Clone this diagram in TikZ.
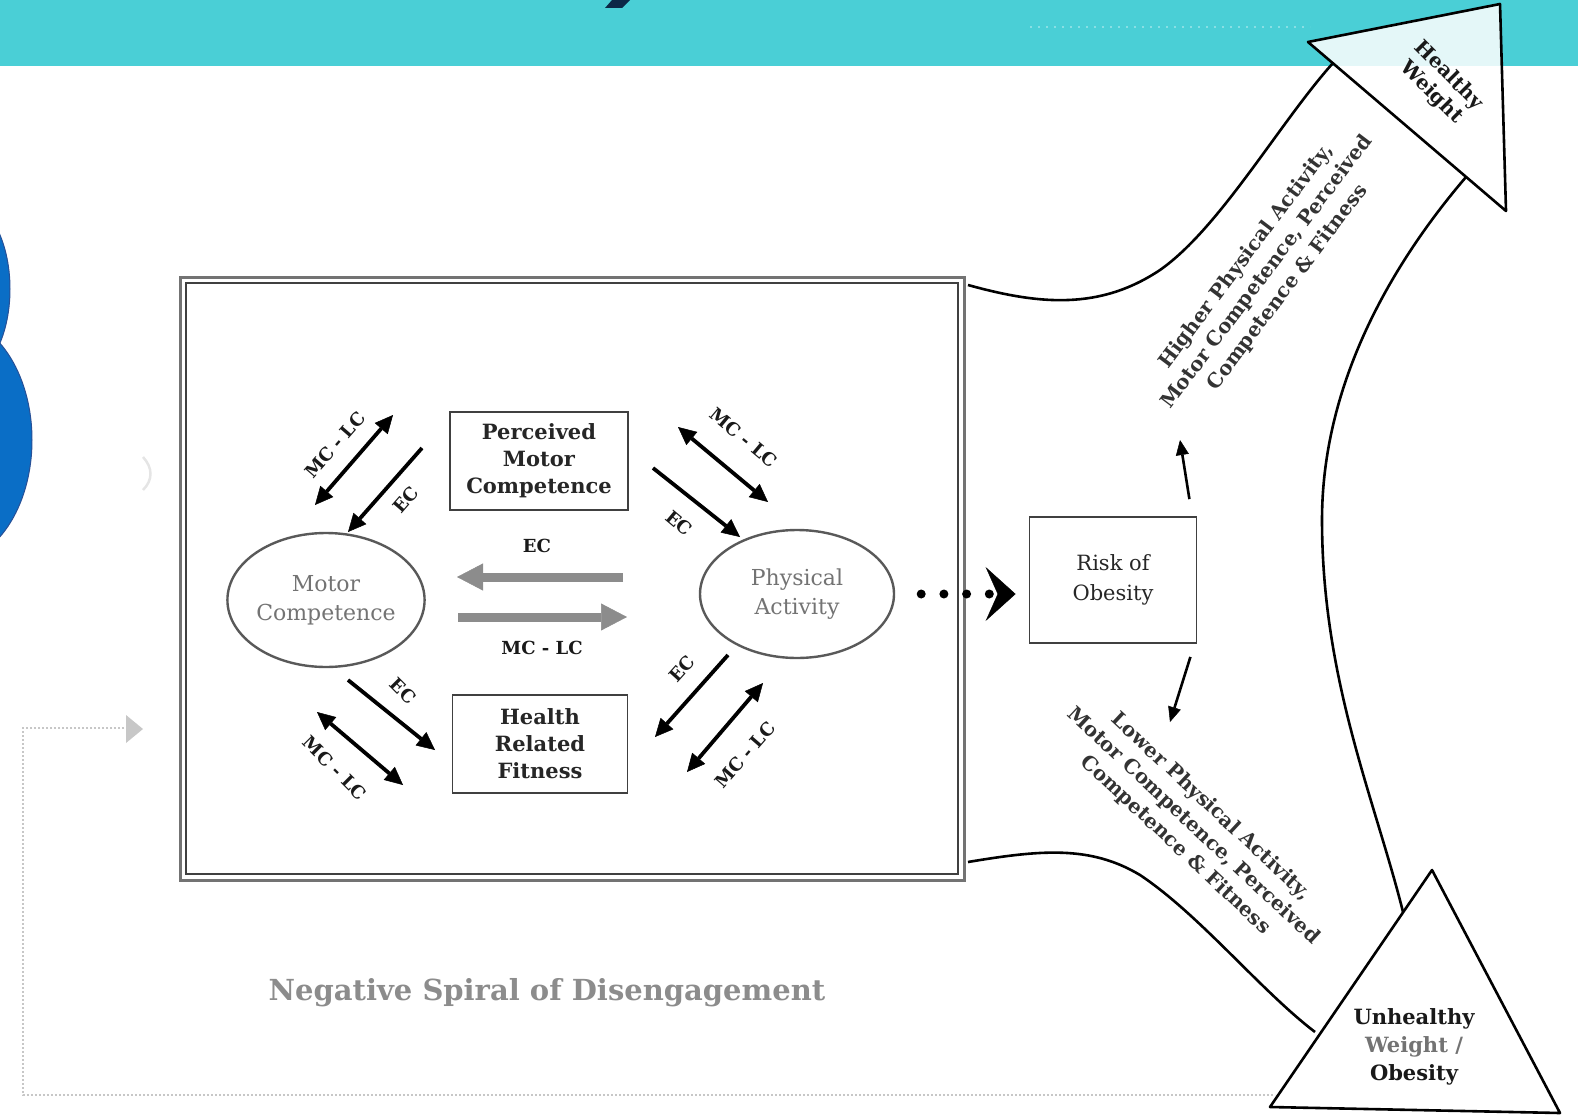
\documentclass[tikz,border=0pt]{standalone}
\usepackage{fontspec}
\setmainfont{DejaVu Serif}
\usetikzlibrary{arrows.meta,shapes.geometric}

\definecolor{banner}{RGB}{74,207,214}
\definecolor{navy}{RGB}{12,40,70}
\definecolor{blob}{RGB}{10,110,198}
\definecolor{blobedge}{RGB}{40,80,150}

\begin{document}
\begin{tikzpicture}[x=1pt,y=1pt,yscale=-1,
  boxtxt/.style={draw=black!75,line width=1.8,align=center,inner sep=0,text=black!85,font=\fontsize{21}{27}\selectfont\bfseries},
  ovaltxt/.style={ellipse,draw=black!65,line width=2.4,align=center,inner sep=0,text=black!55,font=\fontsize{22}{29}\selectfont},
  lbl/.style={inner sep=0,text=black!90,font=\fontsize{18}{20}\selectfont\bfseries},
  hd/.tip={Triangle[length=18pt,width=17pt,line width=0.5pt]},
  blkarrow/.style={line width=3.8,-hd},
  dblarrow/.style={line width=3.8,hd-hd},
  grayarrow/.style={line width=9,draw=black!45,-{Triangle[length=26pt,width=27pt,line width=0.5pt]}},
  dotconn/.style={line width=9,line cap=round,dash pattern=on 0pt off 22.7pt,shorten <=26pt,shorten >=13pt,-{Stealth[length=30pt,width=54pt,inset=12pt,line width=0.5pt]}},
  smallarrow/.style={line width=2.6,-{Triangle[length=15pt,width=13pt,line width=0.5pt]}},
  bigtxt/.style={align=center,inner sep=0,text=black!80,font=\fontsize{20}{26}\selectfont\bfseries},
  outline/.style={line width=2.6,line join=round}]
\useasboundingbox (0,0) rectangle (1578,1115);
\clip (0,0) rectangle (1578,1115);

%Banner
\fill[banner] (0,0) rectangle (1578,66);
\fill[navy] (612,0) -- (630,0) -- (622,8) -- (605,8) -- cycle;
\draw[white,opacity=0.35,line width=1.5,dash pattern=on 2pt off 6pt] (1030,27) -- (1310,27);

%Blue shapes, left edge
\filldraw[fill=blob,draw=blobedge,line width=1] (-40,289) ellipse [x radius=50,y radius=90];
\filldraw[fill=blob,draw=blobedge,line width=1] (-50,440) ellipse [x radius=82,y radius=122];

%faint marks
\draw[black!10,line width=2.5] (143,457) .. controls (153,468) and (153,480) .. (143,490);
\draw[black!22,line width=2,dash pattern=on 2pt off 2pt] (124,728) -- (23,728) -- (23,1095) -- (1275,1095);
\fill[black!22] (126,715) -- (143,729) -- (126,743) -- cycle;

%Negative spiral frame
\draw[black!55,line width=3] (180,277) rectangle (964,880);
\draw[black!75,line width=1.2] (186,283) rectangle (958,874);
\node[inner sep=0,text=black!45,font=\fontsize{29}{32}\selectfont\bfseries] (spiral) at (547,993) {Negative Spiral of Disengagement};

%Nodes
\node[ovaltxt,minimum width=184pt,minimum height=134pt] (mc) at (326,600) {Motor\\Competence};
\node[ovaltxt,minimum width=194pt,minimum height=128pt] (pa) at (797,594) {Physical\\Activity};
\node[boxtxt,minimum width=178pt,minimum height=98pt] (pmc) at (539,461) {Perceived\\Motor\\Competence};
\node[boxtxt,minimum width=175pt,minimum height=98pt] (hrf) at (540,744) {Health\\Related\\Fitness};
\node[boxtxt,minimum width=167pt,minimum height=126pt,font=\fontsize{21}{30}\selectfont] (risk) at (1113,580) {Risk of\\Obesity};

%Centre arrows
\coordinate (ecA) at (623,577); \coordinate (ecB) at (457,577);
\coordinate (mlA) at (458,617); \coordinate (mlB) at (627,617);
\draw[grayarrow] (ecA) -- (ecB);
\draw[grayarrow] (mlA) -- (mlB);
\node[lbl] (ecmid) at (537,546) {EC};
\node[lbl] (mlmid) at (542,648) {MC - LC};

%Upper left
\coordinate (ul1) at (393,415); \coordinate (ul2) at (315,505);
\coordinate (ul3) at (422,448); \coordinate (ul4) at (348,532);
\draw[dblarrow] (ul1) -- (ul2);
\draw[blkarrow] (ul3) -- (ul4);
\node[lbl,rotate=49] (ulml) at (335,445) {MC - LC};
\node[lbl,rotate=49] (ulec) at (406,500) {EC};

%Lower left
\coordinate (ll1) at (348,680); \coordinate (ll2) at (435,750);
\coordinate (ll3) at (317,712); \coordinate (ll4) at (403,785);
\draw[blkarrow] (ll1) -- (ll2);
\draw[dblarrow] (ll3) -- (ll4);
\node[lbl,rotate=-45] (llec) at (403,691) {EC};
\node[lbl,rotate=-45] (llml) at (335,768) {MC - LC};

%Upper right
\coordinate (ur1) at (678,427); \coordinate (ur2) at (768,502);
\coordinate (ur3) at (653,468); \coordinate (ur4) at (740,537);
\draw[dblarrow] (ur1) -- (ur2);
\draw[blkarrow] (ur3) -- (ur4);
\node[lbl,rotate=-40] (urml) at (744,438) {MC - LC};
\node[lbl,rotate=-40] (urec) at (679,523) {EC};

%Lower right
\coordinate (lr1) at (728,655); \coordinate (lr2) at (655,737);
\coordinate (lr3) at (763,683); \coordinate (lr4) at (687,772);
\draw[blkarrow] (lr1) -- (lr2);
\draw[dblarrow] (lr3) -- (lr4);
\node[lbl,rotate=48] (lrec) at (682,669) {EC};
\node[lbl,rotate=49] (lrml) at (745,755) {MC - LC};

%Dotted link to risk
\draw[dotconn] (pa.east) -- (risk.west |- pa.east);

%Big arrows: Higher / Lower
\draw[outline] (968,285) .. controls (1040,305) and (1100,310) .. (1160,270) .. controls (1220,228) and (1280,122) .. (1333,63);
\filldraw[outline,fill=white,fill opacity=0.85] (1308,42) -- (1500,4) -- (1506,211) -- cycle;
\draw[outline] (1466,177) .. controls (1395,260) and (1322,380) .. (1322,520) .. controls (1322,680) and (1375,800) .. (1403,912);
\draw[outline] (968,862) .. controls (1040,850) and (1090,845) .. (1140,875) .. controls (1200,915) and (1260,990) .. (1315,1032);
\draw[outline] (1432,870) -- (1560,1113) -- (1270,1107) -- cycle;

\node[bigtxt,rotate=53] (higher) at (1267,272) {Higher Physical Activity,\\Motor Competence, Perceived\\Competence \& Fitness};
\node[bigtxt,rotate=-43] (lower) at (1193,826) {Lower Physical Activity,\\Motor Competence, Perceived\\Competence \& Fitness};
\node[bigtxt,rotate=-45,text=black!90,font=\fontsize{20}{24}\selectfont\bfseries] (healthy) at (1440,84) {Healthy\\Weight};
\node[bigtxt,text=black!90,font=\fontsize{21}{28}\selectfont\bfseries] (unhealthy) at (1414,1047) {Unhealthy\\\textcolor{black!55}{Weight /}\\Obesity};

%Risk outcomes
\coordinate (upend) at (1180,440); \coordinate (downend) at (1170,722);
\draw[smallarrow] ([xshift=-8pt,yshift=-17pt]risk.north east) -- (upend);
\draw[smallarrow] ([xshift=-7pt,yshift=13pt]risk.south east) -- (downend);

\end{tikzpicture}
\end{document}
